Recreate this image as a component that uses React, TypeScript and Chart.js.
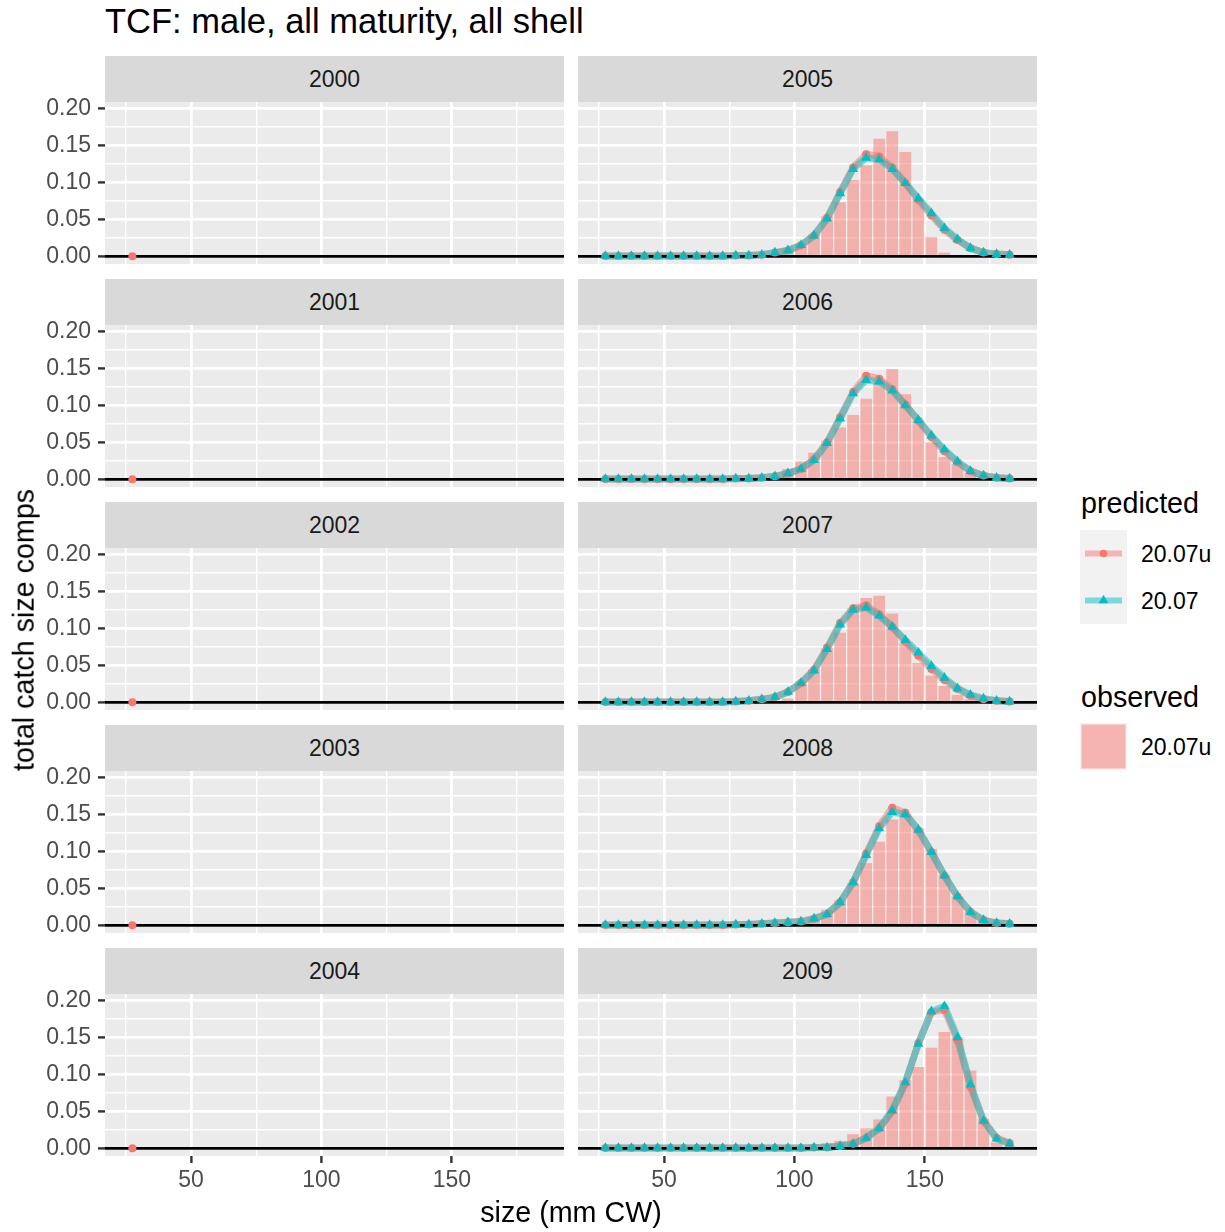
import React, { useEffect, useRef } from "react";
import { Chart, registerables } from "chart.js";

Chart.register(...registerables);

const FONT = "'Liberation Sans', Arial, Helvetica, sans-serif";

// ---------------- data ----------------
const sizeBins = [
  27.5, 32.5, 37.5, 42.5, 47.5, 52.5, 57.5, 62.5, 67.5, 72.5,
  77.5, 82.5, 87.5, 92.5, 97.5, 102.5, 107.5, 112.5, 117.5, 122.5,
  127.5, 132.5, 137.5, 142.5, 147.5, 152.5, 157.5, 162.5, 167.5, 172.5,
  177.5, 182.5,
];

const years = [2000, 2001, 2002, 2003, 2004, 2005, 2006, 2007, 2008, 2009];

const xMajorTicks = [50, 100, 150];
const xTickLabels = ["50", "100", "150"];
const xMinorTicks = [25, 75, 125, 175];
const yMajorTicks = [0, 0.05, 0.1, 0.15, 0.2];
const yTickLabels = ["0.00", "0.05", "0.10", "0.15", "0.20"];
const yMinorTicks = [0.025, 0.075, 0.125, 0.175];

// 2000-2004: only a single predicted (20.07u) value at the first size bin
const predU2000 = [0];
const predU2001 = [0];
const predU2002 = [0];
const predU2003 = [0];
const predU2004 = [0];
const noValues: number[] = [];

// observed (20.07u)
const obs2005 = [
  0, 0, 0, 0, 0, 0, 0, 0, 0, 0,
  0, 0, 0, 0.003, 0.010, 0.017, 0.030, 0.054, 0.073, 0.103,
  0.123, 0.159, 0.169, 0.141, 0.078, 0.026, 0.005, 0, 0, 0,
  0, 0,
];
const obs2006 = [
  0, 0, 0, 0, 0, 0, 0, 0, 0, 0,
  0, 0, 0, 0.004, 0.014, 0.024, 0.036, 0.052, 0.070, 0.087,
  0.109, 0.134, 0.149, 0.115, 0.080, 0.050, 0.030, 0.020, 0.009, 0.004,
  0.001, 0,
];
const obs2007 = [
  0, 0, 0, 0, 0, 0, 0, 0, 0, 0,
  0, 0, 0, 0, 0.005, 0.029, 0.045, 0.073, 0.094, 0.127,
  0.141, 0.144, 0.120, 0.080, 0.053, 0.036, 0.022, 0.010, 0.004, 0.001,
  0, 0,
];
const obs2008 = [
  0, 0, 0, 0, 0, 0, 0, 0, 0, 0,
  0, 0, 0, 0, 0, 0.003, 0.010, 0.021, 0.034, 0.057,
  0.084, 0.113, 0.143, 0.150, 0.131, 0.103, 0.068, 0.039, 0.018, 0.007,
  0.003, 0,
];
const obs2009 = [
  0, 0, 0, 0, 0, 0, 0, 0, 0, 0,
  0, 0, 0, 0, 0, 0.002, 0.004, 0.007, 0.010, 0.019,
  0.027, 0.039, 0.070, 0.092, 0.110, 0.136, 0.157, 0.150, 0.105, 0.040,
  0.008, 0,
];

// predicted, model 20.07u
const predU2005 = [
  0.0005, 0.0005, 0.0005, 0.0005, 0.0005, 0.0005, 0.0005, 0.0005, 0.0005, 0.0005,
  0.001, 0.001, 0.002, 0.005, 0.008, 0.015, 0.028, 0.052, 0.087, 0.120,
  0.138, 0.135, 0.120, 0.099, 0.076, 0.055, 0.036, 0.022, 0.011, 0.005,
  0.003, 0.002,
];
const predU2006 = [
  0.0005, 0.0005, 0.0005, 0.0005, 0.0005, 0.0005, 0.0005, 0.0005, 0.0005, 0.0005,
  0.001, 0.001, 0.002, 0.004, 0.008, 0.014, 0.027, 0.050, 0.084, 0.118,
  0.140, 0.136, 0.122, 0.101, 0.079, 0.057, 0.038, 0.023, 0.011, 0.005,
  0.002, 0.001,
];
const predU2007 = [
  0.0005, 0.0005, 0.0005, 0.0005, 0.0005, 0.0005, 0.0005, 0.0005, 0.0005, 0.0005,
  0.001, 0.002, 0.004, 0.007, 0.014, 0.026, 0.044, 0.074, 0.107, 0.127,
  0.131, 0.119, 0.102, 0.082, 0.063, 0.045, 0.030, 0.018, 0.009, 0.004,
  0.002, 0.001,
];
const predU2008 = [
  0.0005, 0.0005, 0.0005, 0.0005, 0.0005, 0.0005, 0.0005, 0.0005, 0.0005, 0.0005,
  0.001, 0.001, 0.002, 0.003, 0.004, 0.005, 0.009, 0.015, 0.031, 0.058,
  0.097, 0.134, 0.159, 0.152, 0.128, 0.099, 0.067, 0.039, 0.018, 0.007,
  0.003, 0.002,
];
const predU2009 = [
  0.0005, 0.0005, 0.0005, 0.0005, 0.0005, 0.0005, 0.0005, 0.0005, 0.0005, 0.0005,
  0.0005, 0.0005, 0.0005, 0.0005, 0.0005, 0.0005, 0.001, 0.001, 0.003, 0.006,
  0.014, 0.027, 0.050, 0.088, 0.142, 0.184, 0.187, 0.146, 0.083, 0.037,
  0.014, 0.007,
];

// predicted, model 20.07
const pred2005 = [
  0.0005, 0.0005, 0.0005, 0.0005, 0.0005, 0.0005, 0.0005, 0.0005, 0.0005, 0.0005,
  0.001, 0.001, 0.002, 0.005, 0.008, 0.015, 0.028, 0.051, 0.085, 0.118,
  0.133, 0.131, 0.118, 0.099, 0.078, 0.058, 0.038, 0.023, 0.011, 0.005,
  0.003, 0.002,
];
const pred2006 = [
  0.0005, 0.0005, 0.0005, 0.0005, 0.0005, 0.0005, 0.0005, 0.0005, 0.0005, 0.0005,
  0.001, 0.001, 0.002, 0.004, 0.008, 0.014, 0.026, 0.049, 0.082, 0.116,
  0.134, 0.132, 0.120, 0.100, 0.080, 0.059, 0.040, 0.024, 0.011, 0.005,
  0.002, 0.001,
];
const pred2007 = [
  0.0005, 0.0005, 0.0005, 0.0005, 0.0005, 0.0005, 0.0005, 0.0005, 0.0005, 0.0005,
  0.001, 0.002, 0.004, 0.007, 0.014, 0.026, 0.043, 0.072, 0.105, 0.125,
  0.128, 0.117, 0.102, 0.084, 0.067, 0.049, 0.033, 0.019, 0.010, 0.005,
  0.002, 0.001,
];
const pred2008 = [
  0.0005, 0.0005, 0.0005, 0.0005, 0.0005, 0.0005, 0.0005, 0.0005, 0.0005, 0.0005,
  0.001, 0.001, 0.002, 0.003, 0.004, 0.005, 0.009, 0.015, 0.031, 0.058,
  0.095, 0.131, 0.153, 0.150, 0.129, 0.099, 0.067, 0.039, 0.018, 0.007,
  0.003, 0.002,
];
const pred2009 = [
  0.0005, 0.0005, 0.0005, 0.0005, 0.0005, 0.0005, 0.0005, 0.0005, 0.0005, 0.0005,
  0.0005, 0.0005, 0.0005, 0.0005, 0.0005, 0.0005, 0.001, 0.001, 0.003, 0.006,
  0.014, 0.027, 0.051, 0.089, 0.141, 0.185, 0.192, 0.150, 0.086, 0.037,
  0.013, 0.006,
];

const observedByYear = [noValues, noValues, noValues, noValues, noValues, obs2005, obs2006, obs2007, obs2008, obs2009];
const predUByYear = [predU2000, predU2001, predU2002, predU2003, predU2004, predU2005, predU2006, predU2007, predU2008, predU2009];
const predByYear = [noValues, noValues, noValues, noValues, noValues, pred2005, pred2006, pred2007, pred2008, pred2009];

// ---------------- styling / layout ----------------
const X_MIN = 17;
const X_MAX = 193;
const Y_MIN = -0.0104;
const Y_MAX = 0.2085;

const RED = "#F8766D";
const RED_A = "rgba(248,118,109,0.5)";
const TEAL = "#00BFC4";
const TEAL_A = "rgba(0,191,196,0.5)";

const PANEL_W = 459;
const PANEL_H = 162;
const COL_LEFT = [105, 578];
const ROW_TOP0 = 102;
const ROW_PITCH = 223;
const STRIP_H = 46;
const X_AXIS_H = 48;
const LABEL_ROOM = 16;

const isIn = (list: number[], v: number) => list.some((m) => Math.abs(m - v) < 1e-9);

const panelBg = {
  id: "panelBg",
  beforeDraw(chart: any) {
    const { ctx, chartArea } = chart;
    ctx.save();
    ctx.fillStyle = "#EBEBEB";
    ctx.fillRect(chartArea.left, chartArea.top, chartArea.width, chartArea.height);
    ctx.restore();
  },
};

function Panel({ k }: { k: number }) {
  const ref = useRef<HTMLCanvasElement | null>(null);
  const col = k < 5 ? 0 : 1;
  const row = k % 5;
  const showY = col === 0;
  const showX = row === 4;
  const padTop = showY ? LABEL_ROOM : 0;
  const left = showY ? 0 : COL_LEFT[col];
  const width = showY ? COL_LEFT[0] + PANEL_W : PANEL_W;
  const top = ROW_TOP0 + row * ROW_PITCH - padTop;
  const height = PANEL_H + padTop + (showX ? X_AXIS_H : 0);

  useEffect(() => {
    const toXY = (vals: number[]) => vals.map((y, i) => ({ x: sizeBins[i], y }));
    const obs = observedByYear[k];
    const predU = predUByYear[k];
    const pred = predByYear[k];
    const datasets: any[] = [];
    if (pred.length) {
      datasets.push({
        type: "line", label: "20.07 points", data: toXY(pred), showLine: false,
        pointStyle: "triangle", pointRadius: 5.8, pointBackgroundColor: TEAL,
        pointBorderWidth: 0, borderWidth: 0,
      });
    }
    if (predU.length) {
      datasets.push({
        type: "line", label: "20.07u points", data: toXY(predU), showLine: false,
        pointStyle: "circle", pointRadius: 4, pointBackgroundColor: RED,
        pointBorderWidth: 0, borderWidth: 0,
      });
    }
    datasets.push({
      type: "line", label: "zero", data: [{ x: X_MIN, y: 0 }, { x: X_MAX, y: 0 }],
      borderColor: "#000000", borderWidth: 2.8, pointRadius: 0,
    });
    if (pred.length) {
      datasets.push({
        type: "line", label: "20.07", data: toXY(pred), borderColor: TEAL_A,
        borderWidth: 7, pointRadius: 0, tension: 0,
        borderJoinStyle: "round", borderCapStyle: "round",
      });
    }
    if (predU.length > 1) {
      datasets.push({
        type: "line", label: "20.07u", data: toXY(predU), borderColor: RED_A,
        borderWidth: 7, pointRadius: 0, tension: 0,
        borderJoinStyle: "round", borderCapStyle: "round",
      });
    }
    if (obs.length) {
      datasets.push({
        type: "bar", label: "observed", data: toXY(obs), backgroundColor: RED_A,
        borderWidth: 0, barPercentage: 0.9, categoryPercentage: 1.0,
      });
    }

    const gridFor = (major: number[], drawTicks: boolean) => ({
      offset: false,
      color: "#FFFFFF",
      lineWidth: (c: any) => (c.tick && isIn(major, c.tick.value) ? 2.8 : 1.4),
      drawTicks,
      tickLength: 7,
      tickWidth: 2.4,
      tickColor: (c: any) => (c.tick && isIn(major, c.tick.value) ? "#333333" : "rgba(0,0,0,0)"),
    });

    const chart = new Chart(ref.current as HTMLCanvasElement, {
      type: "line",
      data: { datasets },
      plugins: [panelBg],
      options: {
        responsive: false,
        animation: false,
        events: [],
        devicePixelRatio: 1,
        layout: { padding: { top: padTop, left: 0, right: 0, bottom: 0 }, autoPadding: false },
        plugins: {
          legend: { display: false },
          tooltip: { enabled: false },
          title: { display: false },
        },
        scales: {
          x: {
            type: "linear",
            min: X_MIN,
            max: X_MAX,
            offset: false,
            afterBuildTicks: (scale: any) => {
              scale.ticks = [...xMinorTicks, ...xMajorTicks].sort((a, b) => a - b).map((v) => ({ value: v }));
            },
            afterFit: (scale: any) => {
              scale.height = showX ? X_AXIS_H : 0;
              scale.paddingLeft = 0;
              scale.paddingRight = 0;
              scale.paddingTop = 0;
              scale.paddingBottom = 0;
            },
            ticks: {
              display: showX,
              autoSkip: false,
              maxRotation: 0,
              minRotation: 0,
              padding: 4,
              color: "#4D4D4D",
              font: { family: FONT, size: 23 },
              callback: (v: any) => {
                const i = xMajorTicks.findIndex((m) => Math.abs(m - v) < 1e-9);
                return i >= 0 ? xTickLabels[i] : "";
              },
            },
            grid: gridFor(xMajorTicks, showX),
            border: { display: false },
          },
          y: {
            type: "linear",
            min: Y_MIN,
            max: Y_MAX,
            offset: false,
            afterBuildTicks: (scale: any) => {
              scale.ticks = [...yMinorTicks, ...yMajorTicks].sort((a, b) => a - b).map((v) => ({ value: v }));
            },
            afterFit: (scale: any) => {
              scale.width = showY ? COL_LEFT[0] : 0;
              scale.paddingLeft = 0;
              scale.paddingRight = 0;
              scale.paddingTop = 0;
              scale.paddingBottom = 0;
            },
            ticks: {
              display: showY,
              autoSkip: false,
              padding: 7,
              color: "#4D4D4D",
              font: { family: FONT, size: 23 },
              callback: (v: any) => {
                const i = yMajorTicks.findIndex((m) => Math.abs(m - v) < 1e-9);
                return i >= 0 ? yTickLabels[i] : "";
              },
            },
            grid: gridFor(yMajorTicks, showY),
            border: { display: false },
          },
        },
      } as any,
    });
    return () => chart.destroy();
  }, []);

  return (
    <canvas
      ref={ref}
      width={width}
      height={height}
      style={{ position: "absolute", left, top, width, height, display: "block" }}
    />
  );
}

function Strip({ k }: { k: number }) {
  const col = k < 5 ? 0 : 1;
  const row = k % 5;
  return (
    <div
      style={{
        position: "absolute",
        left: COL_LEFT[col],
        top: ROW_TOP0 + row * ROW_PITCH - STRIP_H,
        width: PANEL_W,
        height: STRIP_H,
        background: "#D9D9D9",
        color: "#1A1A1A",
        fontSize: 23,
        lineHeight: `${STRIP_H}px`,
        textAlign: "center",
      }}
    >
      {years[k]}
    </div>
  );
}

function Text({ left, top, size, children, color = "#000000", center = false }: any) {
  return (
    <div
      style={{
        position: "absolute",
        left,
        top,
        fontSize: size,
        lineHeight: `${size}px`,
        color,
        whiteSpace: "nowrap",
        transform: center ? "translateX(-50%)" : undefined,
      }}
    >
      {children}
    </div>
  );
}

function Legend() {
  return (
    <>
      <Text left={1081} top={488.7} size={28.7}>predicted</Text>
      <svg
        width={47}
        height={94}
        style={{ position: "absolute", left: 1080, top: 530 }}
      >
        <rect x={0} y={0} width={47} height={94} fill="#F2F2F2" />
        <line x1={5} x2={42} y1={23.5} y2={23.5} stroke={RED_A} strokeWidth={6} />
        <circle cx={23.5} cy={23.5} r={3.8} fill={RED} />
        <line x1={5} x2={42} y1={70.5} y2={70.5} stroke={TEAL_A} strokeWidth={6} />
        <polygon points="23.5,64.8 28.3,73.3 18.7,73.3" fill={TEAL} />
      </svg>
      <Text left={1141} top={543} size={23}>20.07u</Text>
      <Text left={1141} top={589.5} size={23}>20.07</Text>

      <Text left={1081} top={682.7} size={28.7}>observed</Text>
      <svg
        width={47}
        height={47}
        style={{ position: "absolute", left: 1080, top: 722.5 }}
      >
        <rect x={0} y={0} width={47} height={47} fill="#F2F2F2" />
        <rect x={1.5} y={1.5} width={44} height={44} fill={RED_A} />
      </svg>
      <Text left={1141} top={735.5} size={23}>20.07u</Text>
    </>
  );
}

export default function App() {
  return (
    <div
      style={{
        position: "absolute",
        left: 0,
        top: 0,
        width: 1225,
        height: 1232,
        background: "#FFFFFF",
        fontFamily: FONT,
        overflow: "hidden",
      }}
    >
      <Text left={105} top={4.1} size={34.5}>TCF: male, all maturity, all shell</Text>
      {years.map((_, k) => (
        <Strip key={`s${k}`} k={k} />
      ))}
      {years.map((_, k) => (
        <Panel key={`p${k}`} k={k} />
      ))}
      <Text left={571} top={1197.7} size={28.7} center>size (mm CW)</Text>
      <div
        style={{
          position: "absolute",
          left: 24,
          top: 630,
          fontSize: 28.7,
          lineHeight: "28.7px",
          whiteSpace: "nowrap",
          color: "#000000",
          transform: "translate(-50%, -50%) rotate(-90deg)",
        }}
      >
        total catch size comps
      </div>
      <Legend />
    </div>
  );
}
